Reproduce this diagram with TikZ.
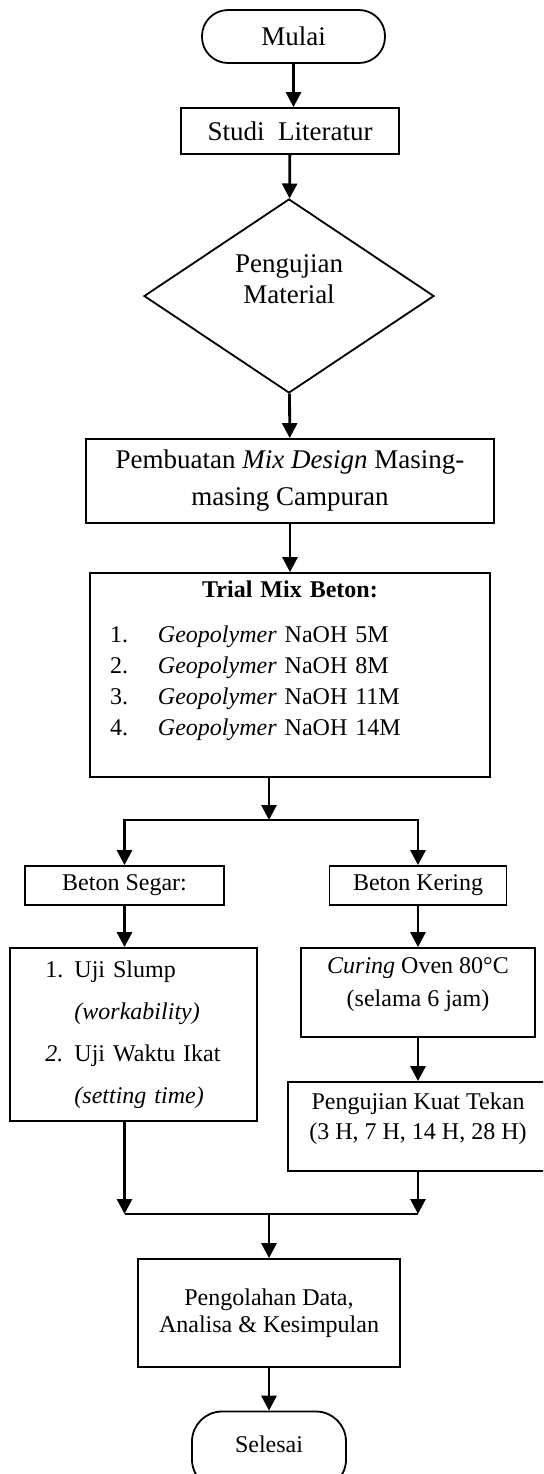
\documentclass[tikz,border=0pt]{standalone}
\usepackage{fontspec}
\setmainfont{Liberation Serif}
\usetikzlibrary{arrows.meta, shapes.geometric}

\begin{document}
\begin{tikzpicture}[x=0.5pt, y=-0.5pt,
    box/.style={draw, line width=0.9pt, inner sep=0pt, align=center, font=\fontsize{12}{15}\selectfont},
    term/.style={box, rounded corners=13pt},
    arr/.style={line width=1.4pt, -{Triangle[length=7.5pt, width=7.5pt]}},
    link/.style={line width=1.4pt}]
    \useasboundingbox (0,0) rectangle (543,1474);
    \clip (0,0) rectangle (543,1474);

    \node[term, minimum width=91.5pt, minimum height=26.5pt, font=\fontsize{13.5}{16}\selectfont] (mulai) at (293.5,36.5) {Mulai};
    \node[box, minimum width=109pt, minimum height=23pt, font=\fontsize{13.5}{16}\selectfont] (studi) at (290,131) {Studi\ \ Literatur};
    \node[box, diamond, minimum width=145pt, minimum height=97pt, font=\fontsize{13.5}{15.5}\selectfont] (uji) at (289,296) {Pengujian\\Material\\[1.5pt]\mbox{}};
    \node[box, minimum width=204pt, minimum height=42pt, font=\fontsize{13.5}{18.5}\selectfont] (mix) at (290,481) {Pembuatan \textit{Mix Design} Masing-\\masing Campuran};
    \node[box, minimum width=200pt, minimum height=102pt, text width=180pt, inner xsep=10pt, align=left, font=\fontsize{12}{15.5}\selectfont] (trial) at (290,675)
        {\makebox[180pt]{\textbf{Trial Mix Beton:}}\\[7pt]
         \makebox[24pt][l]{1.}\textit{Geopolymer} NaOH 5M\\
         \makebox[24pt][l]{2.}\textit{Geopolymer} NaOH 8M\\
         \makebox[24pt][l]{3.}\textit{Geopolymer} NaOH 11M\\
         \makebox[24pt][l]{4.}\textit{Geopolymer} NaOH 14M\\[1pt]\mbox{}};
    \coordinate (split) at (269,820);

    \node[box, minimum width=99.5pt, minimum height=19.5pt] (segar) at (124.5,885.5) {Beton Segar:};
    \node[box, minimum width=88.5pt, minimum height=19.5pt] (kering) at (418,885.5) {Beton Kering};
    \node[box, minimum width=123.5pt, minimum height=86.5pt, text width=88pt, inner xsep=17.75pt, align=left, font=\fontsize{12}{21}\selectfont] (slump) at (133.5,1034.5)
        {\makebox[14.5pt][l]{1.}Uji Slump\\
         \hspace*{14.5pt}\textit{(workability)}\\
         \makebox[14.5pt][l]{\textit{2.}}Uji Waktu Ikat\\
         \hspace*{14.5pt}\textit{(setting time)}};
    \node[box, minimum width=117pt, minimum height=44.5pt, font=\fontsize{12}{16.5}\selectfont] (curing) at (418,992.5) {\textit{Curing} Oven 80°C\\(selama 6 jam)\\[-6.5pt]\mbox{}};
    \node[box, minimum width=130pt, minimum height=44.5pt] (kuat) at (418,1126.5) {Pengujian Kuat Tekan\\(3 H, 7 H, 14 H, 28 H)\\[-5pt]\mbox{}};
    \coordinate (merge) at (269,1214);

    \node[box, minimum width=131pt, minimum height=54pt, font=\fontsize{12}{13.5}\selectfont] (olah) at (269,1313) {Pengolahan Data,\\Analisa \& Kesimpulan};
    \node[term, minimum width=77pt, minimum height=39pt, rounded corners=15pt] (selesai) at (269,1450.5) {Selesai\\[-9pt]\mbox{}};

    \draw[arr] (mulai) -- (mulai |- studi.north);
    \draw[arr] (studi) -- (uji);
    \draw[arr] (uji) -- (mix);
    \draw[arr] (mix) -- (trial);
    \draw[arr] (trial.south -| split) -- (split);
    \draw[arr] (split) -| (segar);
    \draw[arr] (split) -| (kering);
    \draw[arr] (segar) -- (segar |- slump.north);
    \draw[arr] (kering) -- (curing);
    \draw[arr] (curing) -- (kuat);
    \draw[arr] (slump.south -| segar) -- (segar |- merge);
    \draw[arr] (kuat) -- (kuat |- merge);
    \draw[link] (segar |- merge) -- (kuat |- merge);
    \draw[arr] (merge) -- (olah);
    \draw[arr] (olah) -- (selesai);
\end{tikzpicture}
\end{document}
